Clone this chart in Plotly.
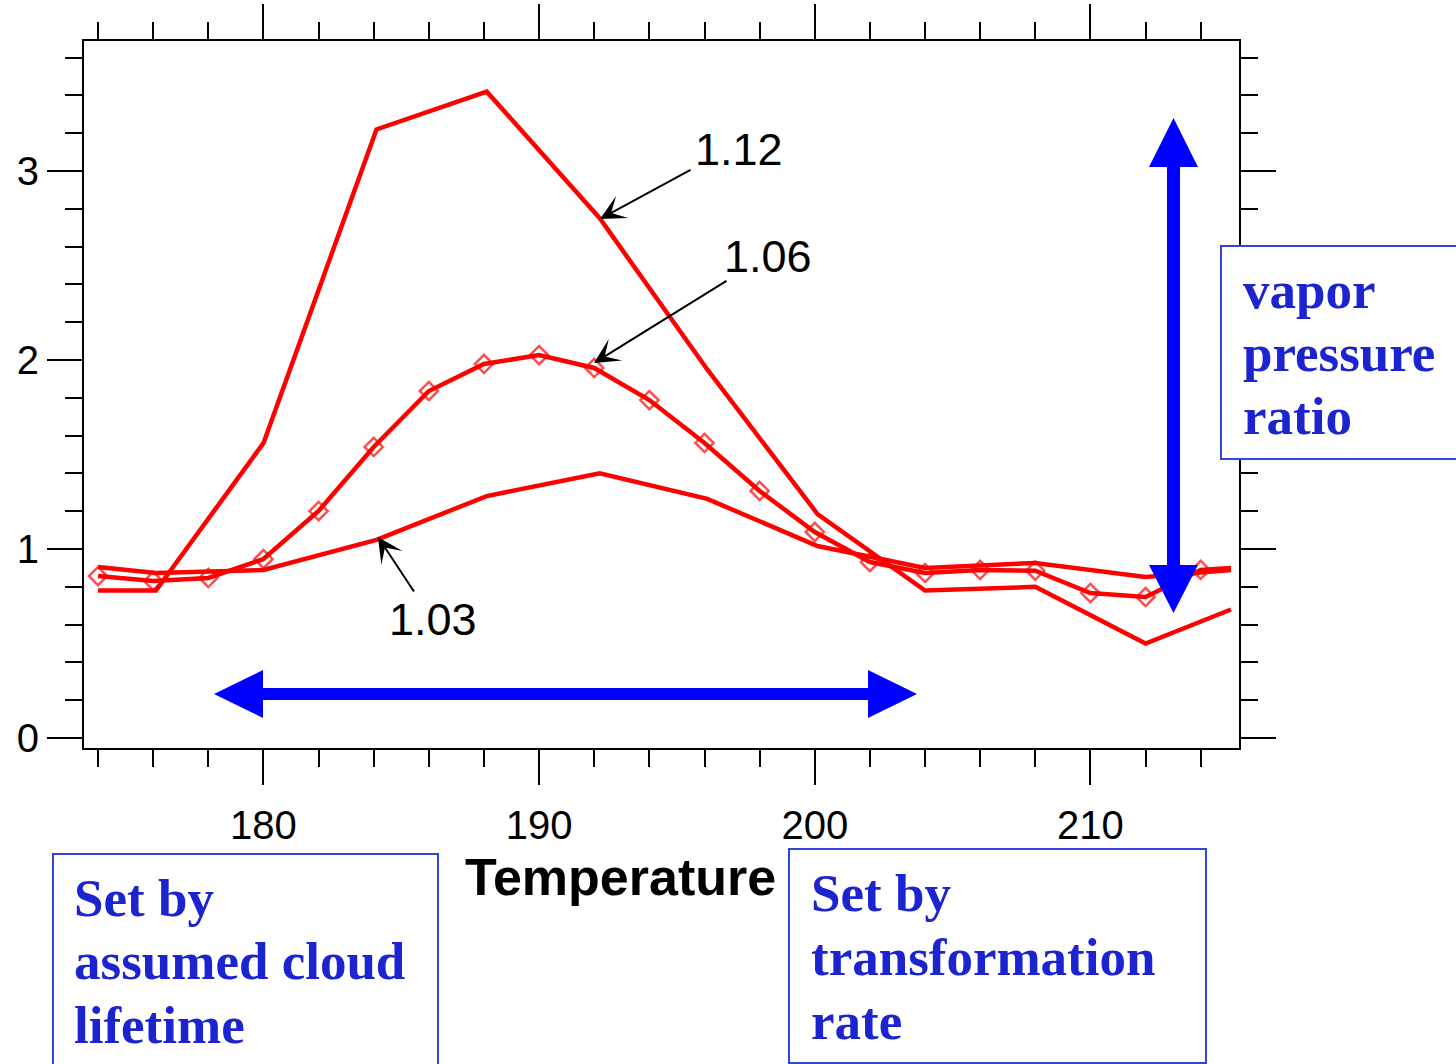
import plotly.graph_objects as go

# ---------------- data ----------------
temp_sparse = [174.0, 176.1, 180.0, 184.1, 188.1, 192.2, 196.1, 200.1, 204.0, 208.0, 212.0, 215.1]
ratio_112 = [0.78, 0.78, 1.56, 3.22, 3.42, 2.75, 1.95, 1.185, 0.78, 0.80, 0.50, 0.68]
ratio_103 = [0.905, 0.873, 0.889, 1.048, 1.28, 1.40, 1.265, 1.016, 0.90, 0.926, 0.852, 0.889]

temp_dense = [174, 176, 178, 180, 182, 184, 186, 188, 190, 192, 194, 196, 198, 200,
              202, 204, 206, 208, 210, 212, 214, 215.1]
ratio_106 = [0.857, 0.831, 0.847, 0.947, 1.201, 1.54, 1.836, 1.979, 2.026, 1.958, 1.788,
             1.561, 1.307, 1.09, 0.931, 0.873, 0.889, 0.885, 0.767, 0.746, 0.889, 0.899]
marker_sizes_106 = [14] * 21 + [0]

x_ticks = [180, 190, 200, 210]
y_ticks = [0, 1, 2, 3]
x_title = "Temperature"
curve_labels = ["1.12", "1.06", "1.03"]
box_texts = [["vapor", "pressure", "ratio"],
             ["Set by", "assumed cloud", "lifetime"],
             ["Set by", "transformation", "rate"]]

# ---------------- geometry helpers ----------------
W, H = 1456, 1064
PL, PR, PT, PB = 84, 1239, 41, 748
X0, X1 = 173.49, 215.39
Y0, Y1 = -0.053, 3.688


def px2x(p):
    return X0 + (p - PL) / (PR - PL) * (X1 - X0)


def px2y(p):
    return Y1 - (p - PT) / (PB - PT) * (Y1 - Y0)


def pxpx(p):
    return (p - PL) / (PR - PL)


def pypy(p):
    return (PB - p) / (PB - PT)


RED = "#ff0000"
BLUE = "#0000ff"
TXTBLUE = "#1b24cf"
BOXBLUE = "#3344dd"

fig = go.Figure()
fig.add_trace(go.Scatter(x=temp_sparse, y=ratio_112, mode="lines",
                         line=dict(color=RED, width=4.5), name="1.12"))
fig.add_trace(go.Scatter(x=temp_sparse, y=ratio_103, mode="lines",
                         line=dict(color=RED, width=4.5), name="1.03"))
fig.add_trace(go.Scatter(x=temp_dense, y=ratio_106, mode="lines+markers",
                         line=dict(color=RED, width=4.5),
                         marker=dict(symbol="diamond-open", size=marker_sizes_106,
                                     color=RED, line=dict(color=RED, width=2.5)),
                         name="1.06"))

axis_common = dict(
    showgrid=False, zeroline=False, showline=True, linecolor="black", linewidth=2,
    mirror="allticks", ticks="outside", ticklen=35, tickwidth=2, tickcolor="black",
    automargin=False,
    tickfont=dict(family="Liberation Sans, Arial", size=40, color="black"),
)
fig.update_xaxes(range=[X0, X1], tickvals=x_ticks, ticktext=[str(v) for v in x_ticks],
                 ticklabelstandoff=6,
                 minor=dict(dtick=2, tick0=0, ticklen=17, tickwidth=2, tickcolor="black",
                            ticks="outside", showgrid=False),
                 **axis_common)
fig.update_yaxes(range=[Y0, Y1], tickvals=y_ticks, ticktext=[str(v) for v in y_ticks],
                 minor=dict(dtick=0.2, tick0=0, ticklen=17, tickwidth=2, tickcolor="black",
                            ticks="outside", showgrid=False),
                 **axis_common)

shapes = []
# horizontal double arrow (blue)
hy = px2y(694)
hh = px2y(694 - 24) - hy
hs = px2y(694 - 6) - hy
xl_tip, xl_base, xr_base, xr_tip = px2x(214), px2x(263), px2x(868), px2x(917)
path_h = (f"M {xl_tip},{hy} L {xl_base},{hy+hh} L {xl_base},{hy+hs} L {xr_base},{hy+hs} "
          f"L {xr_base},{hy+hh} L {xr_tip},{hy} L {xr_base},{hy-hh} L {xr_base},{hy-hs} "
          f"L {xl_base},{hy-hs} L {xl_base},{hy-hh} Z")
shapes.append(dict(type="path", xref="x", yref="y", path=path_h,
                   fillcolor=BLUE, line=dict(width=0)))
# vertical double arrow (blue)
vx = px2x(1173.5)
vh = px2x(1173.5 + 24.5) - vx
vs = px2x(1173.5 + 6.5) - vx
yt_tip, yt_base, yb_base, yb_tip = px2y(118), px2y(167), px2y(565), px2y(613)
path_v = (f"M {vx},{yt_tip} L {vx+vh},{yt_base} L {vx+vs},{yt_base} L {vx+vs},{yb_base} "
          f"L {vx+vh},{yb_base} L {vx},{yb_tip} L {vx-vh},{yb_base} L {vx-vs},{yb_base} "
          f"L {vx-vs},{yt_base} L {vx-vh},{yt_base} Z")
shapes.append(dict(type="path", xref="x", yref="y", path=path_v,
                   fillcolor=BLUE, line=dict(width=0)))

# text boxes
box_rects = [(1221, 246, 1480, 459), (53, 854, 438, 1090), (789, 849, 1206, 1063)]
for (x0, y0, x1, y1) in box_rects:
    shapes.append(dict(type="rect", xref="paper", yref="paper", layer="above",
                       x0=pxpx(x0), x1=pxpx(x1), y0=pypy(y1), y1=pypy(y0),
                       line=dict(color=BOXBLUE, width=2), fillcolor="white"))

annotations = []
box_text_pos = [(1242, [290, 353, 416]), (73, [898, 961, 1025]), (810, [893, 957, 1021])]
for lines, (lx, ys) in zip(box_texts, box_text_pos):
    for t, yy in zip(lines, ys):
        annotations.append(dict(xref="paper", yref="paper", x=pxpx(lx), y=pypy(yy),
                                xanchor="left", yanchor="middle", text=f"<b>{t}</b>",
                                showarrow=False, borderpad=0,
                                font=dict(family="Liberation Serif, Times New Roman",
                                          size=53, color=TXTBLUE)))

# curve labels
label_pos = [(739, 149), (768, 256), (433, 619)]
for t, (lx, ly) in zip(curve_labels, label_pos):
    annotations.append(dict(xref="x", yref="y", x=px2x(lx), y=px2y(ly), text=t,
                            showarrow=False, xanchor="center", yanchor="middle",
                            font=dict(family="Liberation Sans, Arial", size=45, color="black")))
# black pointer arrows (tail -> tip)
pointers = [((692, 169), (600, 219)), ((728, 280), (594, 363)), ((415, 593), (378, 537))]
for (tx, ty), (hx, hy_) in pointers:
    annotations.append(dict(xref="x", yref="y", axref="x", ayref="y",
                            x=px2x(hx), y=px2y(hy_), ax=px2x(tx), ay=px2y(ty),
                            text="", showarrow=True, arrowhead=3, arrowsize=2.1,
                            arrowwidth=2, arrowcolor="black", standoff=0, startstandoff=0))

# x title
annotations.append(dict(xref="paper", yref="paper", x=pxpx(620.5), y=pypy(877),
                        xanchor="center", yanchor="middle", text=f"<b>{x_title}</b>",
                        showarrow=False,
                        font=dict(family="Liberation Sans, Arial", size=52, color="black")))

fig.update_layout(
    width=W, height=H,
    margin=dict(l=PL, r=W - PR, t=PT, b=H - PB, pad=0, autoexpand=False),
    paper_bgcolor="white", plot_bgcolor="white",
    showlegend=False, shapes=shapes, annotations=annotations,
)

fig.write_html("out.html", config={"displayModeBar": False},
               post_script="document.body.style.margin='0px';document.body.style.overflow='hidden';")
